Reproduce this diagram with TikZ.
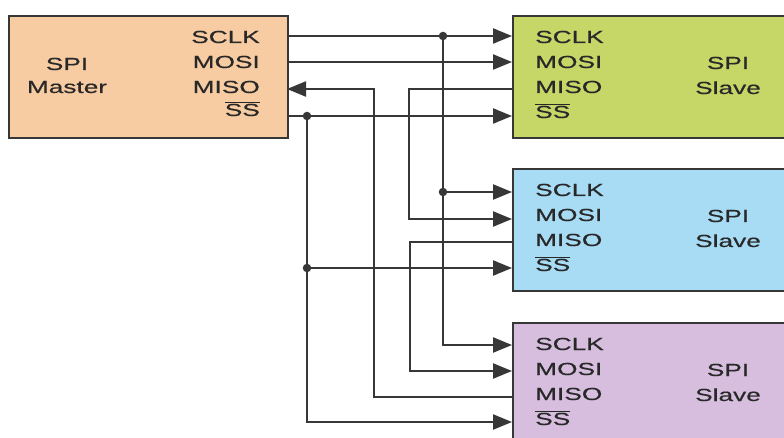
\documentclass[tikz,border=0pt]{standalone}
\usepackage{fontspec}
\setmainfont[FakeStretch=1.5, FakeBold=0.5]{Liberation Sans}
\usetikzlibrary{arrows.meta}

\definecolor{masterfill}{RGB}{248,204,162}
\definecolor{slaveA}{RGB}{198,215,104}
\definecolor{slaveB}{RGB}{168,220,245}
\definecolor{slaveC}{RGB}{215,190,223}
\definecolor{wire}{RGB}{55,55,55}
\definecolor{ink}{RGB}{40,40,40}

\tikzset{
  block/.style={draw=wire, line width=1.6pt, rectangle, inner sep=0pt, anchor=north west},
  pin/.style={font=\fontsize{17.5}{20}\selectfont, text=ink, inner sep=0pt},
  sig/.style={draw=wire, line width=2.2pt},
  sigarrow/.style={sig, -{Triangle[length=19pt,width=15pt]}},
  junction/.style={circle, fill=wire, inner sep=0pt, minimum size=8.5pt},
}
\newcommand{\nss}{$\overline{\hbox{SS}}$}

\begin{document}
\begin{tikzpicture}[x=1pt, y=-1pt]
  \clip (0,0) rectangle (784,438);
  \fill[white] (0,0) rectangle (784,438);

  % blocks
  \node[block, fill=masterfill, minimum width=279pt, minimum height=122pt] (master) at (8,15) {};
  \node[block, fill=slaveA, minimum width=300pt, minimum height=122pt] (s1) at (512,15) {};
  \node[block, fill=slaveB, minimum width=300pt, minimum height=122pt] (s2) at (512,168) {};
  \node[block, fill=slaveC, minimum width=300pt, minimum height=140pt] (s3) at (512,322) {};

  % master labels
  \node[pin, anchor=base] (mt1) at (67,70) {SPI};
  \node[pin, anchor=base] (mt2) at (67,93) {Master};
  \node[pin, anchor=base east] (msclk) at (260,43) {SCLK};
  \node[pin, anchor=base east] (mmosi) at (260,68) {MOSI};
  \node[pin, anchor=base east] (mmiso) at (260,93) {MISO};
  \node[pin, anchor=base east] (mss) at (260,116) {\nss};

  % slave labels
  \foreach \s/\t in {1/15, 2/168, 3/322} {
    \node[pin, anchor=base west] (s\s sclk) at (535,\t+28) {SCLK};
    \node[pin, anchor=base west] (s\s mosi) at (535,\t+53) {MOSI};
    \node[pin, anchor=base west] (s\s miso) at (535,\t+78) {MISO};
    \node[pin, anchor=base west] (s\s ss) at (535,\t+103) {\nss};
    \node[pin, anchor=base] (s\s t1) at (728,\t+54) {SPI};
    \node[pin, anchor=base] (s\s t2) at (728,\t+79) {Slave};
  }

  % pin points on the block edges
  \coordinate (M-sclk) at (287,36);
  \coordinate (M-mosi) at (287,62);
  \coordinate (M-miso) at (287,89);
  \coordinate (M-ss)   at (287,116);
  \foreach \s/\a/\b/\c/\d in {1/36/62/89/116, 2/192/219/242/268, 3/345/371/397/422} {
    \coordinate (S\s-sclk) at (512,\a);
    \coordinate (S\s-mosi) at (512,\b);
    \coordinate (S\s-miso) at (512,\c);
    \coordinate (S\s-ss)   at (512,\d);
  }

  % junctions
  \node[junction] (jclk1) at (443,36) {};
  \node[junction] (jclk2) at (443,192) {};
  \node[junction] (jss1) at (307,116) {};
  \node[junction] (jss2) at (307,268) {};

  % clock bus
  \draw[sigarrow] (M-sclk) -- (S1-sclk);
  \draw[sigarrow] (jclk1.center) -- (jclk2.center) -- (S2-sclk);
  \draw[sigarrow] (jclk2.center) |- (S3-sclk);

  % daisy chain: MOSI -> slave 1 -> slave 2 -> slave 3 -> MISO
  \draw[sigarrow] (M-mosi) -- (S1-mosi);
  \draw[sigarrow] (S1-miso) -- (409,89) |- (S2-mosi);
  \draw[sigarrow] (S2-miso) -- (410,242) |- (S3-mosi);
  \draw[sigarrow] (S3-miso) -- (374,397) |- (M-miso);

  % slave select bus
  \draw[sigarrow] (M-ss) -- (S1-ss);
  \draw[sigarrow] (jss1.center) -- (jss2.center) -- (S2-ss);
  \draw[sigarrow] (jss2.center) |- (S3-ss);
\end{tikzpicture}
\end{document}
